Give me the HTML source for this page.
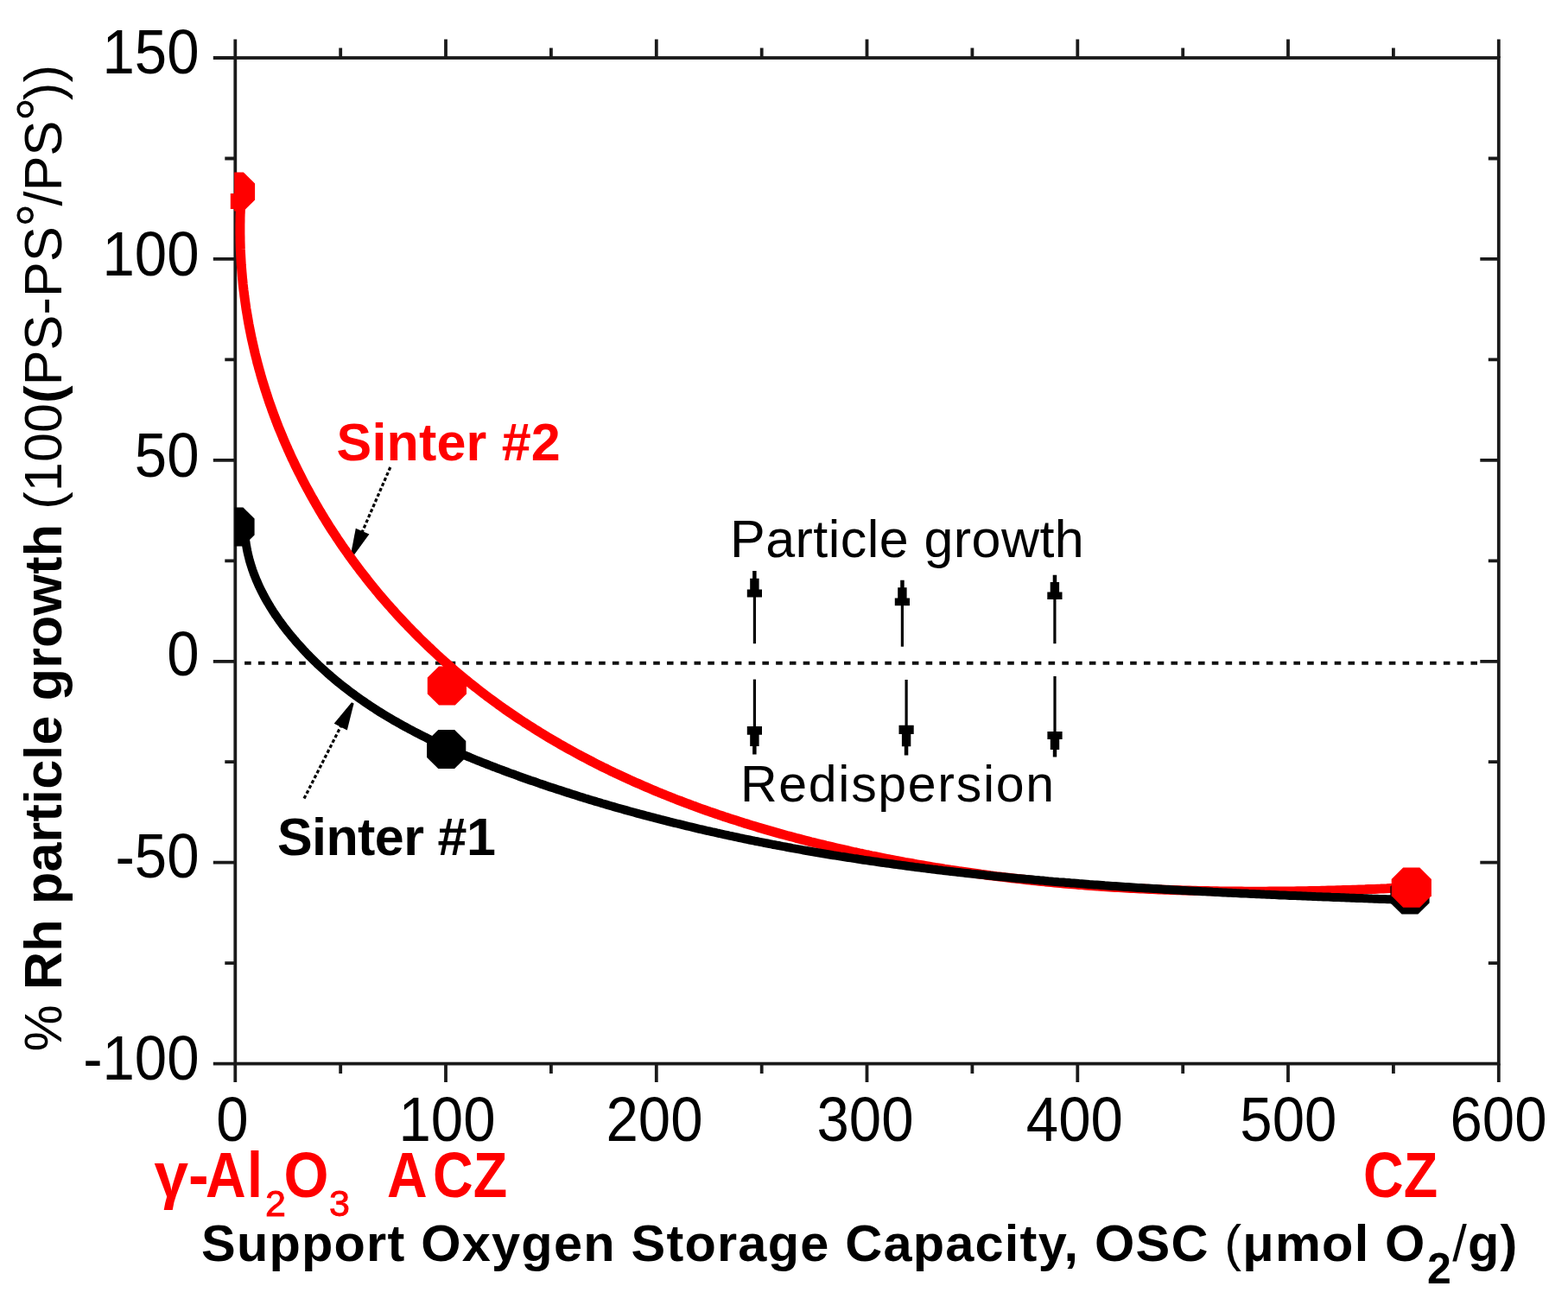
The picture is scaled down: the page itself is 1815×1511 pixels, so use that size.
<!DOCTYPE html>
<html><head><meta charset="utf-8"><style>
html,body{margin:0;padding:0;background:#fff;}
body{width:1815px;height:1511px;overflow:hidden;}
svg{display:block;}
</style></head><body>
<svg width="1815" height="1511" viewBox="0 0 1815 1511">
<rect width="1815" height="1511" fill="#fff"/>
<g stroke="#1a1a1a" stroke-width="3.8" fill="none" stroke-linecap="butt">
<rect x="272.3" y="67.0" width="1462.5" height="1164.6"/>
<path d="M272.3 45.5V67.0M272.3 1231.6V1253.1M394.2 55.5V67.0M394.2 1231.6V1243.1M516.0 45.5V67.0M516.0 1231.6V1253.1M637.9 55.5V67.0M637.9 1231.6V1243.1M759.8 45.5V67.0M759.8 1231.6V1253.1M881.7 55.5V67.0M881.7 1231.6V1243.1M1003.5 45.5V67.0M1003.5 1231.6V1253.1M1125.4 55.5V67.0M1125.4 1231.6V1243.1M1247.3 45.5V67.0M1247.3 1231.6V1253.1M1369.2 55.5V67.0M1369.2 1231.6V1243.1M1491.0 45.5V67.0M1491.0 1231.6V1253.1M1612.9 55.5V67.0M1612.9 1231.6V1243.1M1734.8 45.5V67.0M1734.8 1231.6V1253.1M246.8 67.0H272.3M260.3 183.5H272.3M1722.8 183.5H1734.8M246.8 299.9H272.3M1713.3 299.9H1734.8M260.3 416.4H272.3M1722.8 416.4H1734.8M246.8 532.8H272.3M1713.3 532.8H1734.8M260.3 649.3H272.3M1722.8 649.3H1734.8M246.8 765.8H272.3M1713.3 765.8H1734.8M260.3 882.2H272.3M1722.8 882.2H1734.8M246.8 998.7H272.3M1713.3 998.7H1734.8M260.3 1115.1H272.3M1722.8 1115.1H1734.8M246.8 1231.6H272.3"/>
</g>
<line x1="283.1" y1="767.8" x2="1714" y2="767.8" stroke="#111" stroke-width="4" stroke-dasharray="7.6 8.17"/>
<g font-family="'Liberation Sans', Arial, sans-serif" fill="#000">
<text transform="translate(230.5 85.2) scale(0.973 1.053)" font-size="69" text-anchor="end">150</text>
<text transform="translate(230.5 318.5) scale(0.973 1.053)" font-size="69" text-anchor="end">100</text>
<text transform="translate(230.5 551.5) scale(0.973 1.053)" font-size="69" text-anchor="end">50</text>
<text transform="translate(230.5 781.8) scale(0.973 1.053)" font-size="69" text-anchor="end">0</text>
<text transform="translate(230.5 1016.2) scale(0.973 1.053)" font-size="69" text-anchor="end">-50</text>
<text transform="translate(230.5 1249.6) scale(0.973 1.053)" font-size="69" text-anchor="end">-100</text>
<text transform="translate(268.8 1320.5) scale(0.973 1.053)" font-size="69" text-anchor="middle">0</text>
<text transform="translate(517.5 1320.5) scale(0.973 1.053)" font-size="69" text-anchor="middle">100</text>
<text transform="translate(757.5 1320.5) scale(0.973 1.053)" font-size="69" text-anchor="middle">200</text>
<text transform="translate(1001.5 1320.5) scale(0.973 1.053)" font-size="69" text-anchor="middle">300</text>
<text transform="translate(1243.8 1320.5) scale(0.973 1.053)" font-size="69" text-anchor="middle">400</text>
<text transform="translate(1491.3 1320.5) scale(0.973 1.053)" font-size="69" text-anchor="middle">500</text>
<text transform="translate(1734.5 1320.5) scale(0.973 1.053)" font-size="69" text-anchor="middle">600</text>
</g>
<g font-family="'Liberation Sans', Arial, sans-serif" fill="#ff0000">
<text transform="translate(178.5 1385.5) scale(1.0 1.05)" font-size="71" font-weight="bold" fill="#ff0000">γ-</text>
<text transform="translate(238.0 1385.5) scale(0.91 1.05)" font-size="71" font-weight="bold" letter-spacing="1.5" fill="#ff0000">Al</text>
<text transform="translate(307.0 1408.3)" font-size="43" fill="#ff0000" stroke="#ff0000" stroke-width="0.9">2</text>
<text transform="translate(328.5 1385.5) scale(0.94 1.05)" font-size="71" font-weight="bold" fill="#ff0000">O</text>
<text transform="translate(381.0 1408.3)" font-size="43" fill="#ff0000" stroke="#ff0000" stroke-width="0.9">3</text>
<text transform="translate(448.0 1385.5) scale(0.91 1.05)" font-size="71" font-weight="bold" fill="#ff0000">A<tspan dx="7.0">CZ</tspan></text>
<text transform="translate(1578.0 1385.5) scale(0.91 1.05)" font-size="71" font-weight="bold" fill="#ff0000">CZ</text>
</g>
<g font-family="'Liberation Sans', Arial, sans-serif">
<text transform="translate(233.0 1459.5)" font-size="59.5" font-weight="bold" letter-spacing="1.21">Support Oxygen Storage Capacity, OSC <tspan font-weight="normal">(</tspan>μmol O<tspan font-size="50" dx="1.5" dy="26.5">2</tspan><tspan dy="-26.5" font-weight="normal">/</tspan>g)</text>
</g>
<text font-family="'Liberation Sans', Arial, sans-serif" font-size="61" fill="#000" letter-spacing="0.2" transform="translate(71 1217.5) rotate(-90)">% <tspan font-weight="bold">Rh particle growth</tspan> (100<tspan font-weight="bold">(</tspan>PS-PS<tspan font-size="70" dx="-1" dy="-2">°</tspan><tspan dx="-3.5" dy="2">/PS</tspan><tspan font-size="70" dx="-1" dy="-2">°</tspan><tspan dx="-3.5" dy="2">))</tspan></text>
<g font-family="'Liberation Sans', Arial, sans-serif" font-size="61">
<text x="389.5" y="532.8" font-weight="bold" fill="#ff0000" letter-spacing="0.19">Sinter #2</text>
<text x="321" y="990" font-weight="bold" fill="#000" letter-spacing="-0.6">Sinter #1</text>
<text x="845" y="644.5" fill="#000" letter-spacing="0.45">Particle growth</text>
<text x="857" y="927.5" font-size="59" fill="#000" letter-spacing="1.7">Redispersion</text>
</g>
<line x1="451.8" y1="541.0" x2="418.8" y2="617.0" stroke="#000" stroke-width="3.2" stroke-dasharray="4 2.6"/><polygon points="405.8,643.0 411.8,611.8 427.4,618.6 408.6,644.2" fill="#000"/>
<line x1="352.0" y1="924.6" x2="395.2" y2="839.7" stroke="#000" stroke-width="3.2" stroke-dasharray="4 2.6"/><polygon points="409.6,814.6 401.8,845.4 386.7,837.7 407.0,813.2" fill="#000"/>
<line x1="873.4" y1="745.2" x2="873.4" y2="689.5" stroke="#000" stroke-width="3.2"/><polygon points="875.6,661.0 875.6,669.8 878.6,669.8 878.6,682.4 882.0,682.4 882.0,691.5 864.8,691.5 864.8,682.4 868.2,682.4 868.2,669.8 871.1,669.8 871.1,661.0" fill="#000"/>
<line x1="1044.4" y1="748.7" x2="1044.4" y2="699.3" stroke="#000" stroke-width="3.2"/><polygon points="1046.7,671.7 1046.7,680.3 1049.6,680.3 1049.6,692.4 1053.0,692.4 1053.0,701.3 1035.8,701.3 1035.8,692.4 1039.2,692.4 1039.2,680.3 1042.2,680.3 1042.2,671.7" fill="#000"/>
<line x1="1220.9" y1="745.2" x2="1220.9" y2="692.0" stroke="#000" stroke-width="3.2"/><polygon points="1223.2,665.8 1223.2,674.0 1226.1,674.0 1226.1,685.5 1229.5,685.5 1229.5,694.0 1212.3,694.0 1212.3,685.5 1215.7,685.5 1215.7,674.0 1218.7,674.0 1218.7,665.8" fill="#000"/>
<line x1="873.4" y1="786.6" x2="873.4" y2="843.0" stroke="#000" stroke-width="3.2"/><polygon points="871.1,873.5 871.1,864.1 868.2,864.1 868.2,850.8 864.8,850.8 864.8,841.0 882.0,841.0 882.0,850.8 878.6,850.8 878.6,864.1 875.6,864.1 875.6,873.5" fill="#000"/>
<line x1="1049.1" y1="787.0" x2="1049.1" y2="841.7" stroke="#000" stroke-width="3.2"/><polygon points="1046.8,874.4 1046.8,864.3 1043.9,864.3 1043.9,850.1 1040.5,850.1 1040.5,839.7 1057.7,839.7 1057.7,850.1 1054.3,850.1 1054.3,864.3 1051.3,864.3 1051.3,874.4" fill="#000"/>
<line x1="1221.0" y1="783.0" x2="1221.0" y2="849.0" stroke="#000" stroke-width="3.2"/><polygon points="1218.8,876.6 1218.8,868.0 1215.8,868.0 1215.8,855.9 1212.4,855.9 1212.4,847.0 1229.6,847.0 1229.6,855.9 1226.2,855.9 1226.2,868.0 1223.2,868.0 1223.2,876.6" fill="#000"/>
<defs><clipPath id="pa"><rect x="271.2" y="60" width="1470" height="1175"/><rect x="266.8" y="224" width="10" height="18"/></clipPath><clipPath id="pb"><rect x="271.6" y="60" width="1470" height="1175"/></clipPath></defs>
<path d="M278.9 230.4L278.7 234.1L278.6 237.8L278.4 241.5L278.3 245.1L278.1 248.8L278.0 252.5L278.0 256.2L277.9 259.8L277.9 263.5L277.9 267.1L277.9 270.8L278.0 274.5L278.0 278.1L278.1 281.8L278.2 285.4L278.3 289.0L278.5 292.7L278.7 296.3L278.9 299.9L279.1 303.5L279.3 307.2L279.6 310.8L279.9 314.4L280.2 318.0L280.5 321.6L280.9 325.2L281.2 328.8L281.6 332.4L282.0 335.9L282.5 339.5L282.9 343.1L283.4 346.7L283.9 350.2L284.4 353.8L284.9 357.3L285.5 360.9L286.1 364.4L286.7 368.0L287.3 371.5L287.9 375.0L288.6 378.6L289.3 382.1L290.0 385.6L290.7 389.1L291.4 392.6L292.2 396.1L293.0 399.6L293.8 403.1L294.6 406.5L295.4 410.0L296.3 413.5L297.2 416.9L298.0 420.4L299.0 423.8L299.9 427.3L300.9 430.7L301.8 434.1L302.8 437.6L303.8 441.0L304.9 444.4L305.9 447.8L307.0 451.2L308.1 454.6L309.2 458.0L310.3 461.4L311.4 464.7L312.6 468.1L313.8 471.4L315.0 474.8L316.2 478.1L317.4 481.5L318.7 484.8L319.9 488.1L321.2 491.4L322.5 494.8L323.9 498.1L325.2 501.3L326.6 504.6L327.9 507.9L329.3 511.2L330.7 514.4L332.2 517.7L333.6 521.0L335.1 524.2L336.5 527.4L338.0 530.7L339.6 533.9L341.1 537.1L342.6 540.3L344.2 543.5L345.8 546.7L347.4 549.8L349.0 553.0L350.6 556.2L352.2 559.3L353.9 562.5L355.6 565.6L357.3 568.7L359.0 571.8L360.7 574.9L362.5 578.0L364.2 581.1L366.0 584.2L367.8 587.3L369.6 590.4L371.4 593.4L373.2 596.5L375.1 599.5L376.9 602.5L378.8 605.5L380.7 608.6L382.6 611.6L384.6 614.6L386.5 617.5L388.5 620.5L390.4 623.5L392.4 626.4L394.4 629.4L396.4 632.3L398.4 635.2L400.5 638.1L402.5 641.0L404.6 643.9L406.7 646.8L408.8 649.7L410.9 652.6L413.0 655.4L415.2 658.3L417.3 661.1L419.5 663.9L421.7 666.7L423.9 669.5L426.1 672.3L428.3 675.1L430.6 677.9L432.8 680.6L435.1 683.4L437.3 686.1L439.6 688.9L441.9 691.6L444.3 694.3L446.6 697.0L448.9 699.7L451.3 702.3L453.6 705.0L456.0 707.6L458.4 710.3L460.8 712.9L463.2 715.5L465.7 718.1L468.1 720.7L470.6 723.3L473.0 725.9L475.5 728.4L478.0 731.0L480.5 733.5L483.0 736.0L485.5 738.6L488.1 741.1L490.6 743.5L493.2 746.0L495.7 748.5L498.3 750.9L500.9 753.4L503.5 755.8L506.1 758.2L508.7 760.6L511.4 763.0L514.0 765.4L516.7 767.7L519.4 770.1L522.0 772.4L524.7 774.8L527.4 777.1L530.1 779.4L532.9 781.7L535.6 783.9L538.3 786.2L541.1 788.4L543.8 790.7L546.6 792.9L549.4 795.1L552.2 797.3L555.0 799.5L557.8 801.7L560.6 803.8L563.4 806.0L566.3 808.1L569.1 810.2L572.0 812.3L574.9 814.4L577.7 816.5L580.6 818.5L583.5 820.6L586.4 822.6L589.3 824.6L592.3 826.6L595.2 828.6L598.1 830.6L601.1 832.6L604.0 834.5L607.0 836.5L610.0 838.4L613.0 840.3L616.0 842.2L618.9 844.1L622.0 846.0L625.0 847.9L628.0 849.7L631.0 851.6L634.1 853.4L637.1 855.2L640.2 857.0L643.2 858.8L646.3 860.6L649.4 862.4L652.5 864.1L655.6 865.9L658.7 867.6L661.8 869.3L664.9 871.0L668.0 872.7L671.1 874.4L674.3 876.1L677.4 877.7L680.6 879.4L683.7 881.0L686.9 882.7L690.1 884.3L693.2 885.9L696.4 887.5L699.6 889.1L702.8 890.6L706.0 892.2L709.2 893.7L712.4 895.3L715.7 896.8L718.9 898.3L722.1 899.8L725.4 901.3L728.6 902.8L731.9 904.2L735.1 905.7L738.4 907.1L741.7 908.6L744.9 910.0L748.2 911.4L751.5 912.8L754.8 914.2L758.1 915.6L761.4 917.0L764.7 918.3L768.0 919.7L771.3 921.0L774.7 922.3L778.0 923.7L781.3 925.0L784.7 926.3L788.0 927.5L791.4 928.8L794.7 930.1L798.1 931.3L801.4 932.6L804.8 933.8L808.2 935.1L811.5 936.3L814.9 937.5L818.3 938.7L821.7 939.9L825.1 941.0L828.5 942.2L831.9 943.4L835.3 944.5L838.7 945.7L842.1 946.8L845.5 947.9L848.9 949.0L852.4 950.1L855.8 951.2L859.2 952.3L862.6 953.4L866.1 954.4L869.5 955.5L873.0 956.5L876.4 957.6L879.8 958.6L883.3 959.6L886.7 960.6L890.2 961.6L893.7 962.6L897.1 963.6L900.6 964.6L904.1 965.6L907.5 966.5L911.0 967.5L914.5 968.4L917.9 969.3L921.4 970.3L924.9 971.2L928.4 972.1L931.9 973.0L935.3 973.9L938.8 974.8L942.3 975.6L945.8 976.5L949.3 977.4L952.8 978.2L956.3 979.1L959.8 979.9L963.3 980.7L966.8 981.5L970.3 982.3L973.8 983.1L977.3 983.9L980.8 984.7L984.3 985.5L987.8 986.3L991.3 987.0L994.8 987.8L998.3 988.5L1001.8 989.3L1005.4 990.0L1008.9 990.8L1012.4 991.5L1015.9 992.2L1019.4 992.9L1022.9 993.6L1026.4 994.3L1029.9 995.0L1033.5 995.6L1037.0 996.3L1040.5 997.0L1044.0 997.6L1047.5 998.3L1051.0 998.9L1054.6 999.5L1058.1 1000.2L1061.6 1000.8L1065.1 1001.4L1068.6 1002.0L1072.2 1002.6L1075.7 1003.2L1079.2 1003.8L1082.7 1004.4L1086.2 1004.9L1089.8 1005.5L1093.3 1006.1L1096.8 1006.6L1100.3 1007.2L1103.9 1007.7L1107.4 1008.2L1110.9 1008.8L1114.4 1009.3L1118.0 1009.8L1121.5 1010.3L1125.0 1010.8L1128.5 1011.3L1132.1 1011.8L1135.6 1012.3L1139.1 1012.7L1142.7 1013.2L1146.2 1013.7L1149.7 1014.1L1153.3 1014.6L1156.8 1015.0L1160.3 1015.4L1163.9 1015.9L1167.4 1016.3L1170.9 1016.7L1174.5 1017.1L1178.0 1017.5L1181.5 1017.9L1185.1 1018.3L1188.6 1018.7L1192.1 1019.1L1195.7 1019.5L1199.2 1019.8L1202.8 1020.2L1206.3 1020.5L1209.8 1020.9L1213.4 1021.2L1216.9 1021.6L1220.5 1021.9L1224.0 1022.2L1227.5 1022.6L1231.1 1022.9L1234.6 1023.2L1238.2 1023.5L1241.7 1023.8L1245.3 1024.1L1248.8 1024.4L1252.3 1024.6L1255.9 1024.9L1259.4 1025.2L1263.0 1025.5L1266.5 1025.7L1270.1 1026.0L1273.6 1026.2L1277.2 1026.5L1280.7 1026.7L1284.3 1026.9L1287.8 1027.2L1291.4 1027.4L1294.9 1027.6L1298.5 1027.8L1302.0 1028.0L1305.6 1028.2L1309.1 1028.4L1312.7 1028.6L1316.2 1028.8L1319.8 1029.0L1323.3 1029.1L1326.9 1029.3L1330.4 1029.5L1334.0 1029.6L1337.6 1029.8L1341.1 1029.9L1344.7 1030.1L1348.2 1030.2L1351.8 1030.3L1355.3 1030.5L1358.9 1030.6L1362.4 1030.7L1366.0 1030.8L1369.6 1030.9L1373.1 1031.0L1376.7 1031.1L1380.2 1031.2L1383.8 1031.3L1387.4 1031.4L1390.9 1031.5L1394.5 1031.6L1398.0 1031.6L1401.6 1031.7L1405.2 1031.8L1408.7 1031.8L1412.3 1031.9L1415.9 1031.9L1419.4 1032.0L1423.0 1032.0L1426.6 1032.0L1430.1 1032.1L1433.7 1032.1L1437.2 1032.1L1440.8 1032.2L1444.4 1032.2L1447.9 1032.2L1451.5 1032.2L1455.1 1032.2L1458.6 1032.2L1462.2 1032.2L1465.8 1032.2L1469.3 1032.1L1472.9 1032.1L1476.5 1032.1L1480.1 1032.1L1483.6 1032.0L1487.2 1032.0L1490.8 1032.0L1494.3 1031.9L1497.9 1031.9L1501.5 1031.8L1505.1 1031.8L1508.6 1031.7L1512.2 1031.7L1515.8 1031.6L1519.3 1031.5L1522.9 1031.4L1526.5 1031.4L1530.1 1031.3L1533.6 1031.2L1537.2 1031.1L1540.8 1031.0L1544.4 1030.9L1547.9 1030.8L1551.5 1030.7L1555.1 1030.6L1558.7 1030.5L1562.2 1030.4L1565.8 1030.3L1569.4 1030.2L1573.0 1030.0L1576.5 1029.9L1580.1 1029.8L1583.7 1029.6L1587.3 1029.5L1590.9 1029.4L1594.4 1029.2L1598.0 1029.1L1601.6 1028.9L1605.2 1028.8L1608.8 1028.6L1612.3 1028.5L1615.9 1028.3L1619.5 1028.1L1623.1 1028.0L1626.7 1027.8L1630.2 1027.6L1633.8 1027.4" fill="none" stroke="#ff0000" stroke-width="11" stroke-linejoin="round" stroke-linecap="round"/>
<path d="M283.8 622.2L284.1 625.1L284.5 628.1L285.0 631.0L285.5 633.9L286.0 636.8L286.6 639.7L287.3 642.6L288.0 645.4L288.7 648.3L289.5 651.1L290.4 654.0L291.3 656.8L292.2 659.6L293.2 662.4L294.2 665.2L295.3 667.9L296.4 670.7L297.6 673.4L298.8 676.2L300.0 678.9L301.3 681.6L302.6 684.2L304.0 686.9L305.3 689.5L306.8 692.2L308.2 694.8L309.7 697.4L311.3 700.0L312.8 702.6L314.4 705.1L316.0 707.7L317.7 710.2L319.3 712.7L321.1 715.2L322.8 717.7L324.5 720.1L326.3 722.5L328.1 725.0L330.0 727.4L331.8 729.8L333.7 732.1L335.6 734.5L337.5 736.8L339.5 739.1L341.4 741.4L343.4 743.7L345.4 746.0L347.4 748.2L349.4 750.4L351.4 752.6L353.5 754.8L355.5 757.0L357.6 759.1L359.7 761.2L361.8 763.4L363.9 765.4L366.1 767.5L368.2 769.6L370.4 771.6L372.6 773.6L374.8 775.6L377.0 777.6L379.2 779.6L381.4 781.5L383.6 783.5L385.9 785.4L388.2 787.3L390.4 789.2L392.7 791.0L395.0 792.9L397.3 794.7L399.7 796.5L402.0 798.3L404.3 800.1L406.7 801.9L409.1 803.6L411.5 805.4L413.8 807.1L416.3 808.8L418.7 810.5L421.1 812.2L423.5 813.9L426.0 815.5L428.4 817.1L430.9 818.8L433.4 820.4L435.8 822.0L438.3 823.6L440.8 825.1L443.4 826.7L445.9 828.2L448.4 829.7L451.0 831.3L453.5 832.8L456.1 834.3L458.6 835.7L461.2 837.2L463.8 838.6L466.4 840.1L469.0 841.5L471.6 842.9L474.2 844.3L476.8 845.7L479.4 847.1L482.1 848.5L484.7 849.8L487.4 851.2L490.0 852.5L492.7 853.8L495.4 855.2L498.0 856.5L500.7 857.8L503.4 859.0L506.1 860.3L508.8 861.6L511.5 862.8L514.2 864.1L517.0 865.3L519.7 866.5L522.4 867.8L525.1 869.0L527.9 870.2L530.6 871.4L533.4 872.5L536.1 873.7L538.9 874.9L541.6 876.0L544.4 877.2L547.2 878.3L550.0 879.5L552.7 880.6L555.5 881.7L558.3 882.8L561.1 883.9L563.9 885.0L566.7 886.1L569.5 887.2L572.3 888.2L575.1 889.3L577.9 890.4L580.7 891.4L583.5 892.5L586.3 893.5L589.1 894.6L591.9 895.6L594.8 896.6L597.6 897.6L600.4 898.7L603.2 899.7L606.0 900.7L608.9 901.7L611.7 902.7L614.5 903.7L617.3 904.6L620.2 905.6L623.0 906.6L625.8 907.6L628.7 908.5L631.5 909.5L634.3 910.4L637.2 911.4L640.0 912.3L642.9 913.3L645.7 914.2L648.5 915.1L651.4 916.1L654.2 917.0L657.1 917.9L659.9 918.8L662.8 919.7L665.6 920.6L668.5 921.5L671.3 922.4L674.2 923.3L677.0 924.2L679.9 925.0L682.7 925.9L685.6 926.8L688.4 927.6L691.3 928.5L694.2 929.3L697.0 930.2L699.9 931.0L702.8 931.9L705.6 932.7L708.5 933.5L711.4 934.4L714.2 935.2L717.1 936.0L720.0 936.8L722.8 937.6L725.7 938.4L728.6 939.2L731.5 940.0L734.3 940.8L737.2 941.6L740.1 942.4L743.0 943.1L745.8 943.9L748.7 944.7L751.6 945.4L754.5 946.2L757.4 946.9L760.3 947.7L763.1 948.4L766.0 949.2L768.9 949.9L771.8 950.6L774.7 951.4L777.6 952.1L780.5 952.8L783.4 953.5L786.3 954.2L789.2 954.9L792.1 955.6L794.9 956.3L797.8 957.0L800.7 957.7L803.6 958.4L806.5 959.1L809.4 959.8L812.3 960.4L815.2 961.1L818.2 961.8L821.1 962.4L824.0 963.1L826.9 963.7L829.8 964.4L832.7 965.0L835.6 965.7L838.5 966.3L841.4 966.9L844.3 967.6L847.2 968.2L850.2 968.8L853.1 969.4L856.0 970.1L858.9 970.7L861.8 971.3L864.7 971.9L867.6 972.5L870.6 973.1L873.5 973.7L876.4 974.2L879.3 974.8L882.3 975.4L885.2 976.0L888.1 976.5L891.0 977.1L893.9 977.7L896.9 978.2L899.8 978.8L902.7 979.3L905.7 979.9L908.6 980.4L911.5 981.0L914.4 981.5L917.4 982.1L920.3 982.6L923.2 983.1L926.2 983.6L929.1 984.2L932.0 984.7L935.0 985.2L937.9 985.7L940.9 986.2L943.8 986.7L946.7 987.2L949.7 987.7L952.6 988.2L955.6 988.7L958.5 989.2L961.4 989.7L964.4 990.2L967.3 990.6L970.3 991.1L973.2 991.6L976.1 992.0L979.1 992.5L982.0 993.0L985.0 993.4L987.9 993.9L990.9 994.3L993.8 994.8L996.8 995.2L999.7 995.7L1002.7 996.1L1005.6 996.5L1008.6 997.0L1011.5 997.4L1014.5 997.8L1017.4 998.3L1020.4 998.7L1023.3 999.1L1026.3 999.5L1029.3 999.9L1032.2 1000.3L1035.2 1000.7L1038.1 1001.1L1041.1 1001.5L1044.0 1001.9L1047.0 1002.3L1050.0 1002.7L1052.9 1003.1L1055.9 1003.5L1058.8 1003.9L1061.8 1004.2L1064.8 1004.6L1067.7 1005.0L1070.7 1005.4L1073.6 1005.7L1076.6 1006.1L1079.6 1006.5L1082.5 1006.8L1085.5 1007.2L1088.5 1007.5L1091.4 1007.9L1094.4 1008.2L1097.3 1008.6L1100.3 1008.9L1103.3 1009.3L1106.2 1009.6L1109.2 1009.9L1112.2 1010.3L1115.1 1010.6L1118.1 1010.9L1121.1 1011.2L1124.1 1011.6L1127.0 1011.9L1130.0 1012.2L1133.0 1012.5L1135.9 1012.8L1138.9 1013.1L1141.9 1013.5L1144.8 1013.8L1147.8 1014.1L1150.8 1014.4L1153.8 1014.7L1156.7 1015.0L1159.7 1015.3L1162.7 1015.5L1165.7 1015.8L1168.6 1016.1L1171.6 1016.4L1174.6 1016.7L1177.5 1017.0L1180.5 1017.2L1183.5 1017.5L1186.5 1017.8L1189.4 1018.1L1192.4 1018.3L1195.4 1018.6L1198.4 1018.9L1201.3 1019.1L1204.3 1019.4L1207.3 1019.6L1210.3 1019.9L1213.3 1020.2L1216.2 1020.4L1219.2 1020.7L1222.2 1020.9L1225.2 1021.2L1228.1 1021.4L1231.1 1021.6L1234.1 1021.9L1237.1 1022.1L1240.1 1022.4L1243.0 1022.6L1246.0 1022.8L1249.0 1023.1L1252.0 1023.3L1255.0 1023.5L1257.9 1023.7L1260.9 1024.0L1263.9 1024.2L1266.9 1024.4L1269.9 1024.6L1272.8 1024.8L1275.8 1025.0L1278.8 1025.3L1281.8 1025.5L1284.8 1025.7L1287.7 1025.9L1290.7 1026.1L1293.7 1026.3L1296.7 1026.5L1299.7 1026.7L1302.6 1026.9L1305.6 1027.1L1308.6 1027.3L1311.6 1027.5L1314.6 1027.7L1317.5 1027.9L1320.5 1028.0L1323.5 1028.2L1326.5 1028.4L1329.5 1028.6L1332.4 1028.8L1335.4 1029.0L1338.4 1029.1L1341.4 1029.3L1344.4 1029.5L1347.3 1029.7L1350.3 1029.9L1353.3 1030.0L1356.3 1030.2L1359.3 1030.4L1362.2 1030.5L1365.2 1030.7L1368.2 1030.9L1371.2 1031.0L1374.2 1031.2L1377.1 1031.4L1380.1 1031.5L1383.1 1031.7L1386.1 1031.8L1389.1 1032.0L1392.0 1032.2L1395.0 1032.3L1398.0 1032.5L1401.0 1032.6L1404.0 1032.8L1406.9 1032.9L1409.9 1033.1L1412.9 1033.2L1415.9 1033.4L1418.8 1033.5L1421.8 1033.7L1424.8 1033.8L1427.8 1033.9L1430.8 1034.1L1433.7 1034.2L1436.7 1034.4L1439.7 1034.5L1442.7 1034.6L1445.6 1034.8L1448.6 1034.9L1451.6 1035.0L1454.6 1035.2L1457.5 1035.3L1460.5 1035.4L1463.5 1035.6L1466.5 1035.7L1469.4 1035.8L1472.4 1036.0L1475.4 1036.1L1478.4 1036.2L1481.3 1036.4L1484.3 1036.5L1487.3 1036.6L1490.3 1036.7L1493.2 1036.9L1496.2 1037.0L1499.2 1037.1L1502.1 1037.2L1505.1 1037.3L1508.1 1037.5L1511.1 1037.6L1514.0 1037.7L1517.0 1037.8L1520.0 1037.9L1522.9 1038.1L1525.9 1038.2L1528.9 1038.3L1531.8 1038.4L1534.8 1038.5L1537.8 1038.6L1540.7 1038.8L1543.7 1038.9L1546.7 1039.0L1549.6 1039.1L1552.6 1039.2L1555.6 1039.3L1558.5 1039.4L1561.5 1039.6L1564.5 1039.7L1567.4 1039.8L1570.4 1039.9L1573.3 1040.0L1576.3 1040.1L1579.3 1040.2L1582.2 1040.3L1585.2 1040.4L1588.1 1040.6L1591.1 1040.7L1594.1 1040.8L1597.0 1040.9L1600.0 1041.0L1602.9 1041.1L1605.9 1041.2L1608.9 1041.3L1611.8 1041.4L1614.8 1041.5L1617.7 1041.6L1620.7 1041.8L1623.6 1041.9L1626.6 1042.0L1629.5 1042.1L1632.5 1042.2" fill="none" stroke="#000" stroke-width="10" stroke-linejoin="round" stroke-linecap="round"/>
<g clip-path="url(#pa)"><polygon points="295.1,231.4 281.9,244.6 263.1,244.6 249.9,231.4 249.9,212.6 263.1,199.4 281.9,199.4 295.1,212.6" fill="#ff0000"/></g>
<g clip-path="url(#pb)"><polygon points="294.6,619.4 281.4,632.6 262.6,632.6 249.4,619.4 249.4,600.6 262.6,587.4 281.4,587.4 294.6,600.6" fill="#000"/></g>
<polygon points="539.3,876.9 526.1,890.1 507.3,890.1 494.1,876.9 494.1,858.1 507.3,844.9 526.1,844.9 539.3,858.1" fill="#000"/>
<polygon points="1654.6,1045.4 1641.4,1058.6 1622.6,1058.6 1609.4,1045.4 1609.4,1026.6 1622.6,1013.4 1641.4,1013.4 1654.6,1026.6" fill="#000"/>
<polygon points="540.0,803.4 526.8,816.6 508.0,816.6 494.8,803.4 494.8,784.6 508.0,771.4 526.8,771.4 540.0,784.6" fill="#ff0000"/>
<polygon points="1656.9,1037.2 1643.4,1050.7 1624.2,1050.7 1610.7,1037.2 1610.7,1018.0 1624.2,1004.5 1643.4,1004.5 1656.9,1018.0" fill="#ff0000"/>
</svg>
</body></html>
